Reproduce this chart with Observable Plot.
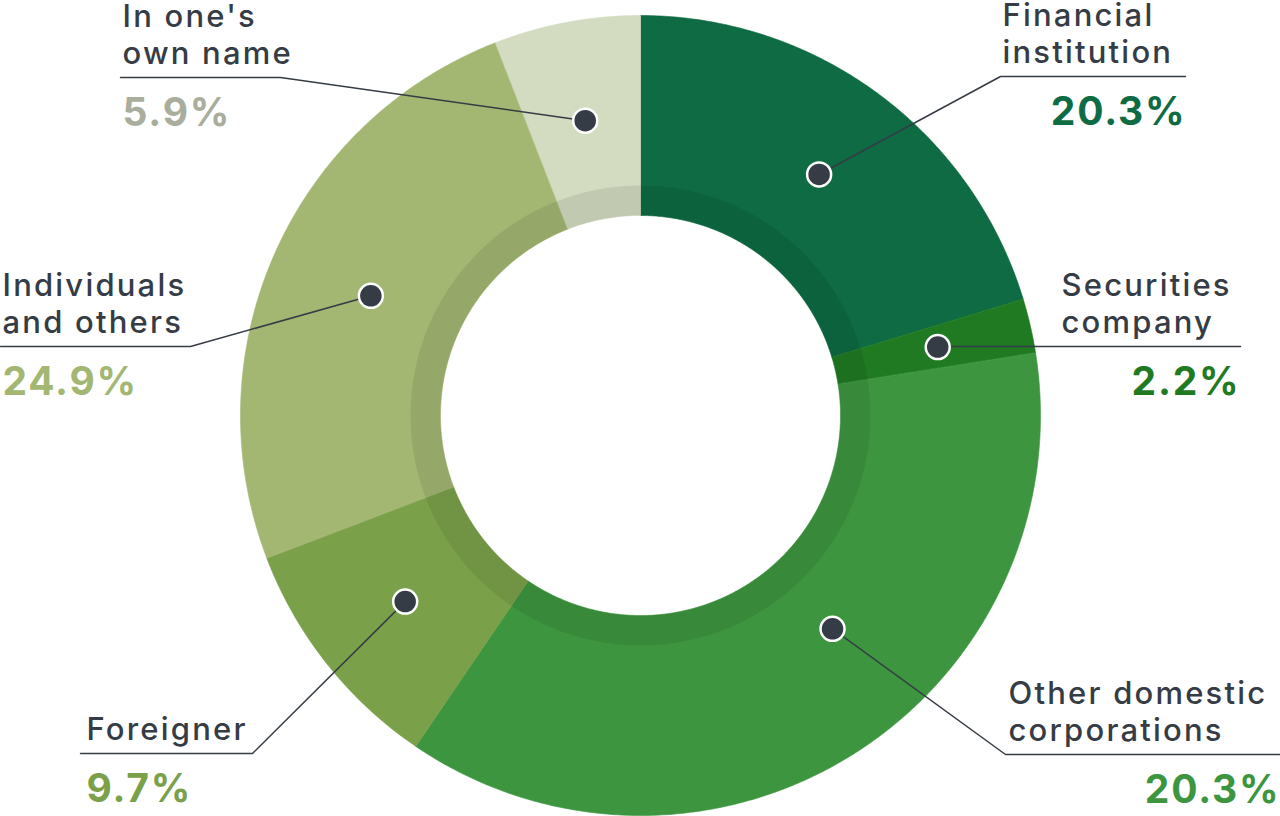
<!DOCTYPE html>
<html><head><meta charset="utf-8">
<script src="https://cdn.jsdelivr.net/npm/d3@7"></script>
<script src="https://cdn.jsdelivr.net/npm/@observablehq/plot@0.6"></script>
<style>
html,body{margin:0;background:#fff;}
#chart svg{display:block;overflow:visible;}
#chart g[font-weight="700"] text{letter-spacing:1.8px;}
#chart g[font-weight="500"] text{letter-spacing:2.2px;}
</style></head><body><div id="chart"></div>
<script>
// ---- data ----
const categories = ["Financial institution", "Securities company", "Other domestic corporations", "Foreigner", "Individuals and others", "In one's own name"];
// slice sizes as drawn (share of the circle, %)
const shares = [20.3, 2.2, 37.0, 9.7, 24.9, 5.9];
// value labels as printed on the chart
const valueLabels = ["20.3%", "2.2%", "20.3%", "9.7%", "24.9%", "5.9%"];
const nameLines = ["Financial\ninstitution", "Securities\ncompany", "Other domestic\ncorporations", "Foreigner", "Individuals\nand others", "In one's\nown name"];
const sliceColors = ["#0e6b43", "#1f7a22", "#3d963f", "#7aa04a", "#a3b772", "#d3dbc0"];
const valueColors = ["#0e6b43", "#1f7a22", "#3d963f", "#7aa04a", "#a3b772", "#a9ad9c"];

// ---- layout ----
const W = 1280, H = 816, CX = 640, CY = 415, R_OUT = 400, R_IN = 200;
const labelLayout = [
  {side: "right", lineY: 76, elbowX: 1000, endX: 1185, textX: 1002, valueX: 1186},
  {side: "right", lineY: 346, elbowX: null, endX: 1240, textX: 1061, valueX: 1240},
  {side: "right", lineY: 754, elbowX: 1005, endX: 1280, textX: 1008, valueX: 1280},
  {side: "left", lineY: 753, elbowX: 252, endX: 80, textX: 86, valueX: 86},
  {side: "left", lineY: 346, elbowX: 190, endX: 0, textX: 2, valueX: 2},
  {side: "left", lineY: 77, elbowX: 280, endX: 120, textX: 122, valueX: 122}
];
const dotLayout = [{r: 300}, {r: 305}, {r: 287, angle: 138}, {r: 300}, {r: 295}, {r: 300}];
const textColor = "#353c45";

const pol = (r, a) => ({x: CX + r * Math.sin(a), y: CY - r * Math.cos(a)});
const arcs = d3.pie().sort(null).value(d => d)(shares);

const slices = arcs.map((a, i) => {
  const pts = [];
  const n = Math.max(4, Math.ceil((a.endAngle - a.startAngle) / (Math.PI / 360)));
  for (let k = 0; k <= n; k++) pts.push(pol(R_OUT, a.startAngle + (a.endAngle - a.startAngle) * k / n));
  for (let k = n; k >= 0; k--) pts.push(pol(R_IN, a.startAngle + (a.endAngle - a.startAngle) * k / n));
  return {pts, color: sliceColors[i]};
});

const band = d3.range(0, 721).map(k => pol(215, k * Math.PI / 360));

const rows = categories.map((c, i) => {
  const a = arcs[i];
  const L = dotLayout[i];
  const ang = L.angle != null ? L.angle * Math.PI / 180 : (a.startAngle + a.endAngle) / 2;
  const dot = pol(L.r, ang);
  const lay = labelLayout[i];
  return {
    name: nameLines[i], value: valueLabels[i], vcolor: valueColors[i],
    dotX: dot.x, dotY: dot.y, ...lay
  };
});

const leaders = rows.flatMap((d, i) => {
  const pts = [{x: d.dotX, y: d.dotY, i}];
  if (d.elbowX != null) pts.push({x: d.elbowX, y: d.lineY, i});
  else pts.push({x: d.dotX, y: d.lineY, i});
  pts.push({x: d.endX, y: d.lineY, i});
  return pts;
});

const marks = [
  ...slices.map(s => Plot.line(s.pts, {x: "x", y: "y", fill: s.color, stroke: s.color, strokeWidth: 0.6, curve: "linear-closed"})),
  Plot.line(band, {x: "x", y: "y", stroke: "#000", strokeOpacity: 0.08, strokeWidth: 30, curve: "linear-closed"}),
  Plot.line(leaders, {x: "x", y: "y", z: "i", stroke: textColor, strokeWidth: 1.5}),
  Plot.dot(rows, {x: "dotX", y: "dotY", r: 12, fill: textColor, stroke: "#fff", strokeWidth: 2.5}),
  Plot.text(rows, {x: "textX", y: d => d.lineY - 14, text: "name", textAnchor: "start", lineAnchor: "bottom", lineHeight: 1.17, fontSize: 31, fontWeight: 500, fontFamily: "Inter", fill: textColor}),
  Plot.text(rows.filter(d => d.side === "right"), {x: "valueX", y: d => d.lineY + 48, text: "value", textAnchor: "end", lineAnchor: "bottom", fontSize: 39, fontWeight: 700, fontFamily: "Inter", fill: "vcolor"}),
  Plot.text(rows.filter(d => d.side === "left"), {x: "valueX", y: d => d.lineY + 48, text: "value", textAnchor: "start", lineAnchor: "bottom", fontSize: 39, fontWeight: 700, fontFamily: "Inter", fill: "vcolor"})
];

const chart = Plot.plot({
  width: W, height: H, margin: 0,
  x: {domain: [0, W], range: [0, W], axis: null},
  y: {domain: [0, H], range: [0, H], axis: null},
  color: {type: "identity"},
  style: {background: "#fff", fontFamily: "Inter"},
  marks
});
document.getElementById("chart").append(chart);
</script></body></html>
